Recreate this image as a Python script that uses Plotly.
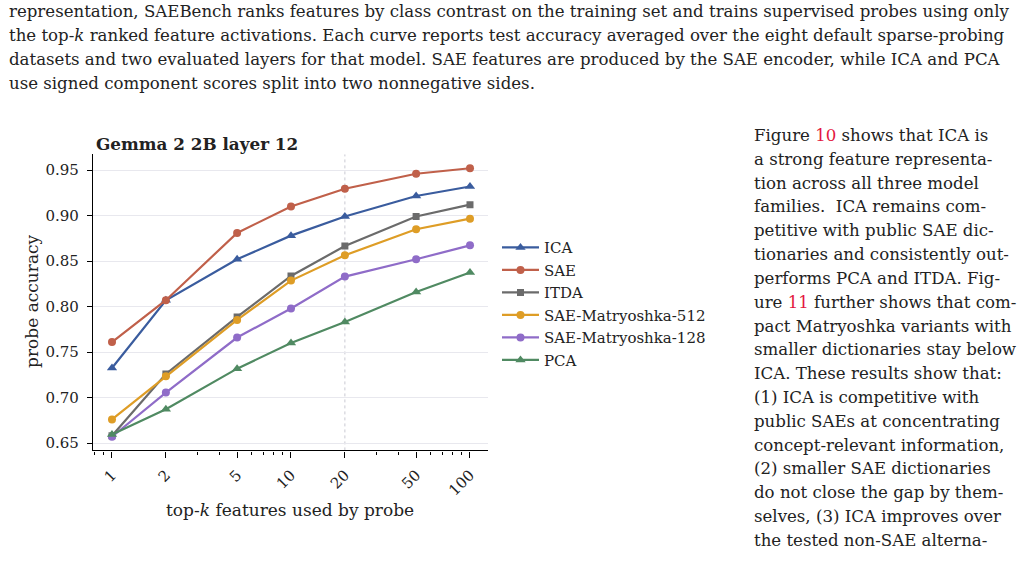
import plotly.graph_objects as go

# ---------------- data ----------------
k_values = [1, 2, 5, 10, 20, 50, 100]
k_labels = ["1", "2", "5", "10", "20", "50", "100"]
ica = [0.7325, 0.807, 0.852, 0.878, 0.899, 0.9215, 0.932]
sae = [0.761, 0.807, 0.881, 0.910, 0.9295, 0.946, 0.952]
itda = [0.658, 0.726, 0.7887, 0.8337, 0.8666, 0.899, 0.912]
sae_m512 = [0.676, 0.7234, 0.7854, 0.8286, 0.8564, 0.885, 0.8966]
sae_m128 = [0.657, 0.7055, 0.766, 0.798, 0.833, 0.852, 0.8673]
pca = [0.6595, 0.6872, 0.7318, 0.760, 0.783, 0.816, 0.8374]
y_ticks = [0.65, 0.70, 0.75, 0.80, 0.85, 0.90, 0.95]
minor_x = [0.8, 0.9, 3, 4, 6, 7, 8, 9, 30, 40, 60, 70, 80, 90]

series = [
    ("ICA", ica, "#3a5c9e", "triangle-up", 9),
    ("SAE", sae, "#c0604a", "circle", 8),
    ("ITDA", itda, "#6b6b6b", "square", 7),
    ("SAE-Matryoshka-512", sae_m512, "#de9d26", "circle", 8),
    ("SAE-Matryoshka-128", sae_m128, "#8f6cc8", "circle", 8),
    ("PCA", pca, "#508a62", "triangle-up", 9),
]

top_lines = [
    "representation, SAEBench ranks features by class contrast on the training set and trains supervised probes using only",
    "the top-<i>k</i> ranked feature activations. Each curve reports test accuracy averaged over the eight default sparse-probing",
    "datasets and two evaluated layers for that model. SAE features are produced by the SAE encoder, while ICA and PCA",
    "use signed component scores split into two nonnegative sides.",
]
RED = "#e3173e"
right_lines = [
    f"Figure <span style='color:{RED}'>10</span> shows that ICA is",
    "a strong feature representa-",
    "tion across all three model",
    "families.  ICA remains com-",
    "petitive with public SAE dic-",
    "tionaries and consistently out-",
    "performs PCA and ITDA. Fig-",
    f"ure <span style='color:{RED}'>11</span> further shows that com-",
    "pact Matryoshka variants with",
    "smaller dictionaries stay below",
    "ICA. These results show that:",
    "(1) ICA is competitive with",
    "public SAEs at concentrating",
    "concept-relevant information,",
    "(2) smaller SAE dictionaries",
    "do not close the gap by them-",
    "selves, (3) ICA improves over",
    "the tested non-SAE alterna-",
]

W, H = 1024, 562
def px(x):
    return x / W
def py(y):
    return 1 - y / H

SERIF = "DejaVu Serif"
TXT = "#222222"
BODY = 16.6

fig = go.Figure()
for i, (name, vals, col, sym, ms) in enumerate(series):
    fig.add_trace(go.Scatter(
        x=k_values, y=vals, name=name, mode="lines+markers",
        line=dict(color=col, width=2.2),
        marker=dict(symbol=sym, size=ms, color=col),
        legendgroup=f"g{i}",
    ))

# vertical dotted reference line at k=20
fig.add_shape(type="line", xref="x", yref="paper", x0=20, x1=20,
              y0=py(452), y1=py(155),
              line=dict(color="#c9c9d2", width=1, dash="dot"), layer="below")

fig.update_layout(
    width=W, height=H, autosize=False,
    margin=dict(l=0, r=0, t=0, b=0),
    paper_bgcolor="white", plot_bgcolor="white",
    font=dict(family=SERIF, color=TXT),
    showlegend=True,
    legend=dict(x=px(497), y=py(232), xanchor="left", yanchor="top",
                font=dict(family=SERIF, size=15, color=TXT),
                bgcolor="rgba(0,0,0,0)", tracegroupgap=0, itemwidth=37),
    xaxis=dict(
        type="log", domain=[px(93), px(488)], range=[-0.1061, 2.1006],
        tickvals=k_values, ticktext=k_labels, tickangle=-45,
        ticks="outside", ticklen=6, tickwidth=1.2, tickcolor="black",
        tickfont=dict(family=SERIF, size=15, color=TXT),
        ticklabelstandoff=3,
        showline=True, linecolor="black", linewidth=1.3,
        showgrid=False, zeroline=False,
        minor=dict(tickvals=minor_x, ticks="outside", ticklen=3.5,
                   tickwidth=1, tickcolor="black", showgrid=False),
    ),
    yaxis=dict(
        domain=[py(452), py(155)], range=[0.6420, 0.9672],
        tickvals=y_ticks, tickformat=".2f",
        ticks="outside", ticklen=5, tickwidth=1.2, tickcolor="black",
        tickfont=dict(family=SERIF, size=15, color=TXT),
        ticklabelstandoff=5,
        showline=True, linecolor="black", linewidth=1.3,
        showgrid=True, gridcolor="#e8e8ee", gridwidth=1, zeroline=False,
    ),
)

ann = []
ann.append(dict(text="<b>Gemma 2 2B layer 12</b>", x=px(94), y=py(145),
                xanchor="left", yanchor="middle",
                font=dict(family=SERIF, size=16.8, color=TXT)))
ann.append(dict(text="probe accuracy", x=px(32), y=py(303), textangle=-90,
                xanchor="center", yanchor="middle",
                font=dict(family=SERIF, size=17, color=TXT)))
ann.append(dict(text="top-<i>k</i> features used by probe", x=px(290), y=py(512),
                xanchor="center", yanchor="middle",
                font=dict(family=SERIF, size=17, color=TXT)))
for i, t in enumerate(top_lines):
    ann.append(dict(text=t, x=px(7), y=py(12 + 24 * i), xanchor="left",
                    yanchor="middle", font=dict(family=SERIF, size=BODY, color=TXT)))
for i, t in enumerate(right_lines):
    ann.append(dict(text=t, x=px(752), y=py(136 + 23.9 * i), xanchor="left",
                    yanchor="middle", font=dict(family=SERIF, size=BODY, color=TXT)))
for a in ann:
    a.update(xref="paper", yref="paper", showarrow=False)
fig.update_layout(annotations=ann)

fig.write_html("out.html", config={"displayModeBar": False})
